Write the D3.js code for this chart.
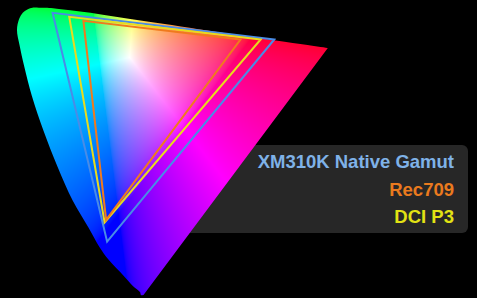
<!DOCTYPE html>
<html>
<head>
<meta charset="utf-8">
<script src="https://cdn.jsdelivr.net/npm/d3@7"></script>
<style>
  html, body { margin: 0; padding: 0; background: #000; }
  svg { display: block; }
</style>
</head>
<body>
<svg id="chart" width="477" height="298"></svg>
<script>
// spectral locus in CIE 1976 u'v' (nm, u', v')
const locusNm = [380, 420, 430, 440, 450, 460, 465, 470, 475, 480, 485, 490, 495, 500, 505, 510, 515, 520, 525, 530, 535, 540, 550, 560, 570, 580, 590, 600, 620, 640, 700]
const locusU = [0.258, 0.253, 0.251, 0.237, 0.219, 0.189, 0.171, 0.149, 0.118, 0.088, 0.060, 0.037, 0.022, 0.0125, 0.0075, 0.0115, 0.019, 0.029, 0.038, 0.051, 0.064, 0.079, 0.113, 0.153, 0.203, 0.262, 0.332, 0.404, 0.520, 0.583, 0.623]
const locusV = [0.017, 0.017, 0.023, 0.035, 0.055, 0.087, 0.112, 0.151, 0.204, 0.271, 0.343, 0.412, 0.470, 0.513, 0.543, 0.564, 0.577, 0.584, 0.587, 0.587, 0.587, 0.586, 0.582, 0.577, 0.569, 0.560, 0.550, 0.539, 0.522, 0.513, 0.507]

// gamut triangles, u'v' of R, G, B primaries
const gamutNames = ['XM310K Native Gamut', 'Rec709', 'DCI P3']
const nativeU = [0.517, 0.078, 0.186]
const nativeV = [0.524, 0.577, 0.123]
const rec709U = [0.450, 0.139, 0.184]
const rec709V = [0.524, 0.561, 0.166]
const p3U = [0.490, 0.111, 0.181]
const p3V = [0.524, 0.569, 0.161]

const width = 477
const height = 298

const u = d3.scaleLinear().domain([0, 0.6]).range([13.2, 316.2])
const v = d3.scaleLinear().domain([0, 0.6]).range([303.6, 1.2])

// colour fill of the diagram, painted pixel by pixel
// the white spot of the picture sits a little up and right of D65
const shiftU = 0.033
const shiftV = 0.02
const canvas = document.createElement('canvas')
canvas.width = width
canvas.height = height
const ctx = canvas.getContext('2d')
const img = ctx.createImageData(width, height)
const enc = c => c <= 0.0031308 ? 12.92 * c : 1.055 * Math.pow(c, 1 / 2.4) - 0.055
for (let py = 0; py < height; py++) {
  for (let px = 0; px < 345; px++) {
    const up = u.invert(px + 0.5) - shiftU
    const vp = Math.max(v.invert(py + 0.5) - shiftV, 0.002)
    const d = 6 * up - 16 * vp + 12
    if (d <= 0) continue
    const x = 9 * up / d
    const y = Math.max(4 * vp / d, 0.004)
    const X = x / y
    const Z = (1 - x - y) / y
    let r = Math.max(3.2406 * X - 1.5372 - 0.4986 * Z, 0)
    let g = Math.max(-0.9689 * X + 1.8758 + 0.0415 * Z, 0)
    let b = Math.max(0.0557 * X - 0.2040 + 1.0570 * Z, 0)
    const m = Math.max(r, g, b) || 1
    const k = (py * width + px) * 4
    img.data[k] = 255 * enc(r / m)
    img.data[k + 1] = 255 * enc(g / m)
    img.data[k + 2] = 255 * enc(b / m)
    img.data[k + 3] = 255
  }
}
ctx.putImageData(img, 0, 0)

const svg = d3.select('#chart')
svg.append('rect')
  .attr('width', width)
  .attr('height', height)
  .attr('fill', '#000')

const defs = svg.append('defs')
const locusLine = d3.line()
  .x(d => u(d[0]))
  .y(d => v(d[1]))
  .curve(d3.curveCatmullRom)

defs.append('clipPath')
  .attr('id', 'locus-clip')
  .append('path')
  .attr('d', locusLine(d3.zip(locusU, locusV)) + 'Z')

defs.append('filter')
  .attr('id', 'soft')
  .append('feGaussianBlur')
  .attr('stdDeviation', 0.5)

// legend panel sits behind the diagram
svg.append('rect')
  .attr('x', 170)
  .attr('y', 145)
  .attr('width', 298)
  .attr('height', 88)
  .attr('rx', 6)
  .attr('fill', '#272727')

svg.append('image')
  .attr('href', canvas.toDataURL())
  .attr('width', width)
  .attr('height', height)
  .attr('clip-path', 'url(#locus-clip)')

const gamuts = [
  { name: gamutNames[0], us: nativeU, vs: nativeV, stroke: '#4a8ce6', label: '#7fb2e8' },
  { name: gamutNames[2], us: p3U, vs: p3V, stroke: '#e8dc1e', label: '#e2e214' },
  { name: gamutNames[1], us: rec709U, vs: rec709V, stroke: '#f07a1e', label: '#ea7a1e' }
]

const tri = d3.line()
  .x(d => u(d[0]))
  .y(d => v(d[1]))

svg.append('g')
  .attr('filter', 'url(#soft)')
  .selectAll('path')
  .data(gamuts)
  .enter()
  .append('path')
  .attr('d', g => tri(d3.zip(g.us, g.vs)) + 'Z')
  .attr('fill', 'none')
  .attr('stroke', g => g.stroke)
  .attr('stroke-width', 2)
  .attr('stroke-linejoin', 'miter')

const labels = [gamuts[0], gamuts[2], gamuts[1]]
svg.append('g')
  .selectAll('text')
  .data(labels)
  .enter()
  .append('text')
  .attr('x', 454)
  .attr('y', (d, i) => 168 + i * 27.5)
  .attr('text-anchor', 'end')
  .attr('fill', d => d.label)
  .style('font-family', '"Liberation Sans", Arial, sans-serif')
  .style('font-weight', 'bold')
  .style('font-size', '18.5px')
  .text(d => d.name)
</script>
</body>
</html>
